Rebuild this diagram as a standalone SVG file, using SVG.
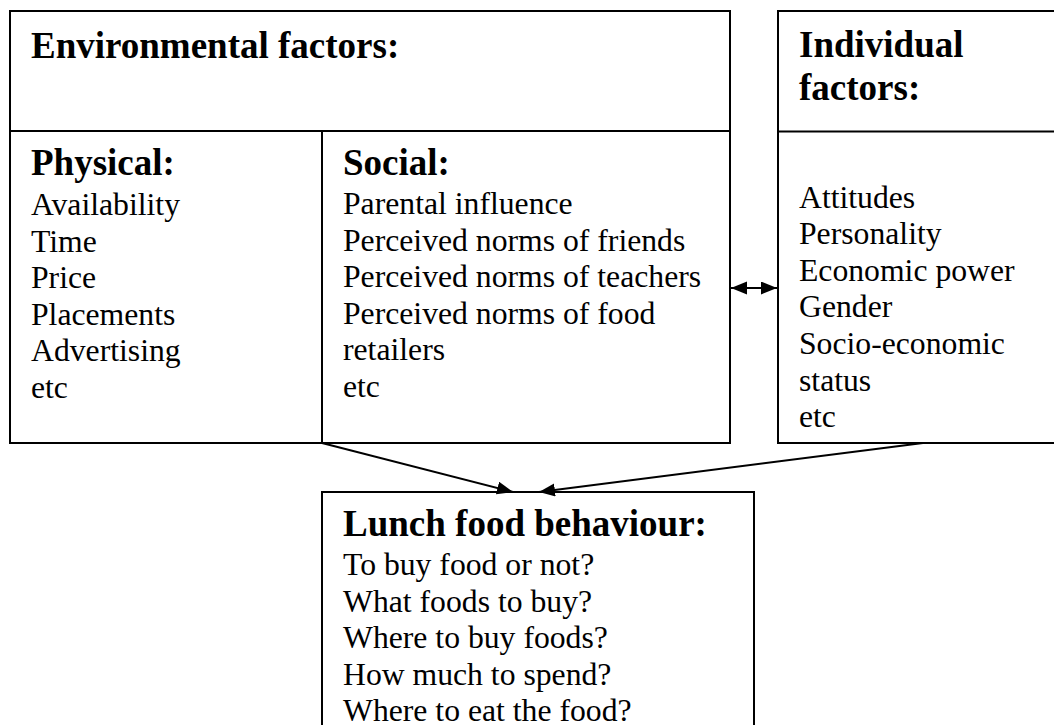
<svg xmlns="http://www.w3.org/2000/svg" width="1054" height="725" viewBox="0 0 1054 725">
  <style>
    .box { fill: #ffffff; stroke: #000000; stroke-width: 2; }
    .div { stroke: #000000; stroke-width: 2; fill: none; }
    .h { font-family: "Liberation Serif", "Times New Roman", serif; font-weight: bold; font-size: 37px; fill: #000; }
    .t { font-family: "Liberation Serif", "Times New Roman", serif; font-size: 31.7px; fill: #000; }
    .conn { stroke: #000000; stroke-width: 2; fill: none; }
  </style>
  <defs>
    <marker id="ah" markerUnits="userSpaceOnUse" markerWidth="17" markerHeight="14" refX="16" refY="6.5" orient="auto-start-reverse">
      <path d="M0,0 L16,6.5 L0,13 z" fill="#000"/>
    </marker>
  </defs>
  <rect width="1054" height="725" fill="#ffffff"/>

  <g id="environmental">
    <rect class="box" x="10" y="11" width="720" height="432"/>
    <line class="div" x1="10" y1="131" x2="730" y2="131"/>
    <line class="div" x1="322" y1="131" x2="322" y2="443"/>
    <text class="h" x="31" y="58">Environmental factors:</text>
  </g>

  <g id="physical">
    <text class="h" x="31" y="175">Physical:</text>
    <text class="t" x="31" y="215">Availability</text>
    <text class="t" x="31" y="251.6">Time</text>
    <text class="t" x="31" y="288.2">Price</text>
    <text class="t" x="31" y="324.8">Placements</text>
    <text class="t" x="31" y="361.4">Advertising</text>
    <text class="t" x="31" y="398">etc</text>
  </g>

  <g id="social">
    <text class="h" x="343" y="175">Social:</text>
    <text class="t" x="343" y="214">Parental influence</text>
    <text class="t" x="343" y="250.6">Perceived norms of friends</text>
    <text class="t" x="343" y="287.2">Perceived norms of teachers</text>
    <text class="t" x="343" y="323.8">Perceived norms of food</text>
    <text class="t" x="343" y="360.4">retailers</text>
    <text class="t" x="343" y="397">etc</text>
  </g>

  <g id="individual">
    <rect class="box" x="778" y="11" width="290" height="432"/>
    <line class="div" x1="778" y1="131.5" x2="1060" y2="131.5"/>
    <text class="h" x="799" y="57">Individual</text>
    <text class="h" x="799" y="100">factors:</text>
    <text class="t" x="799" y="207.5">Attitudes</text>
    <text class="t" x="799" y="244.1">Personality</text>
    <text class="t" x="799" y="280.7">Economic power</text>
    <text class="t" x="799" y="317.3">Gender</text>
    <text class="t" x="799" y="353.9">Socio-economic</text>
    <text class="t" x="799" y="390.5">status</text>
    <text class="t" x="799" y="427.1">etc</text>
  </g>

  <g id="lunch">
    <rect class="box" x="322" y="492" width="432" height="250"/>
    <text class="h" x="343" y="536">Lunch food behaviour:</text>
    <text class="t" x="343" y="575">To buy food or not?</text>
    <text class="t" x="343" y="611.6">What foods to buy?</text>
    <text class="t" x="343" y="648.2">Where to buy foods?</text>
    <text class="t" x="343" y="684.8">How much to spend?</text>
    <text class="t" x="343" y="721.4">Where to eat the food?</text>
  </g>

  <g id="connectors">
    <line class="conn" x1="731" y1="288" x2="777" y2="288" marker-start="url(#ah)" marker-end="url(#ah)"/>
    <line class="conn" x1="322" y1="443" x2="513" y2="492" marker-end="url(#ah)"/>
    <line class="conn" x1="923" y1="443" x2="539" y2="492" marker-end="url(#ah)"/>
  </g>
</svg>
